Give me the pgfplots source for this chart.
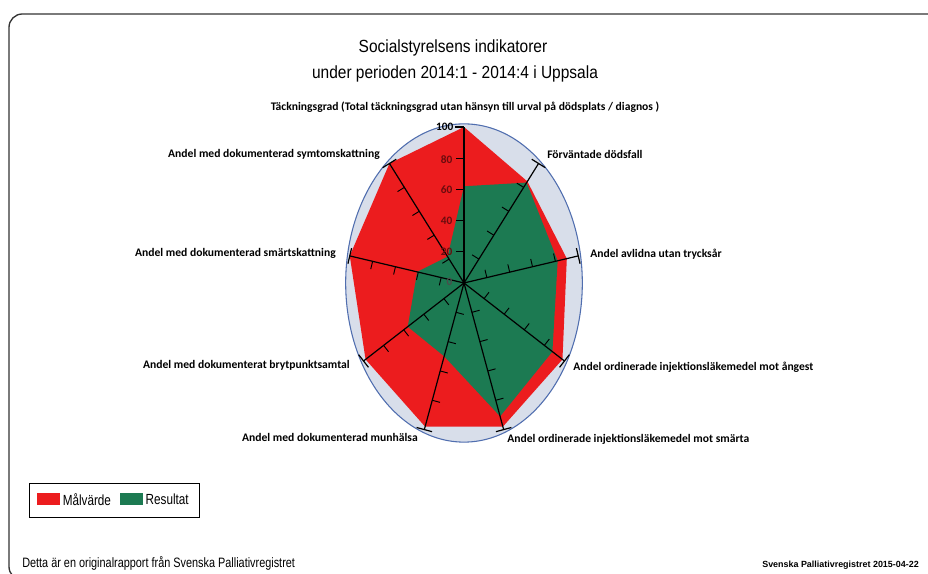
\documentclass[border=0pt]{standalone}
\usepackage{pgfplots}
\pgfplotsset{compat=1.18}
\usepackage{pgfplotstable}
\usepackage{fontspec}
\setmainfont{Liberation Sans}
\newfontfamily\lab{Carlito}
\newfontfamily\narrow[FakeStretch=0.8]{Liberation Sans}
\newfontfamily\titlefont[FakeStretch=0.88]{Liberation Sans}
\usetikzlibrary{calc}
\definecolor{mred}{RGB}{236,28,30}
\definecolor{mgreen}{RGB}{28,122,82}
\definecolor{ellfill}{RGB}{216,222,234}
\definecolor{elldraw}{RGB}{80,110,175}

% angle (deg), Malvarde, Resultat
\pgfplotstableread{
ang target result
90 100 62
50 85 84
10 90 82
-30 98 88
-70 98 91
-110 98 50
-150 98 56
170 100 41
130 100 22
90 100 62
}\radar

\begin{document}
\begin{tikzpicture}[x=0.75pt,y=0.75pt]
\path[use as bounding box] (0,0) rectangle (928,574);
\begin{scope}
\clip (0,0) rectangle (928,574);
\draw[line width=1pt, black!80, rounded corners=10pt] (9,560) rectangle (960,-6);
\end{scope}
\begin{axis}[at={(0,0)}, anchor=south west, scale only axis,
  width=696pt, height=430.5pt,
  xmin=-400, xmax=400, ymin=-186.54, ymax=181.41,
  hide axis, clip=false,
  legend columns=2,
  legend style={at={(0.031,0.1585)}, anchor=north west, draw=black, line width=1pt,
    font=\narrow\fontsize{11}{12}\selectfont, inner xsep=6pt, inner ysep=5.5pt,
    /tikz/every even column/.append style={column sep=5pt}},
  legend image code/.code={\fill[#1] (0pt,-3.3pt) rectangle (17pt,5.5pt);},
]
\draw[fill=ellfill, draw=elldraw, line width=0.8pt] (axis cs:0,0) ellipse [x radius=102, y radius=102];
\addplot[fill=mred, draw=none, data cs=polar] table[x=ang, y=target]{\radar};
\addlegendentry{Målvärde}
\addplot[fill=mgreen, draw=none, data cs=polar] table[x=ang, y=result]{\radar};
\addlegendentry{Resultat}
\coordinate (O) at (axis cs:0,0);
\pgfplotsinvokeforeach{0,...,8}{
  \coordinate (E#1) at (axis cs:{100*cos(90-40*#1)},{100*sin(90-40*#1)});
}
\end{axis}
% spokes and ticks
\foreach \k in {0,...,8}{
  \draw[line width=0.9pt] (O) -- (E\k);
  \foreach \f in {0.2,0.4,0.6,0.8}{
    \coordinate (T) at ($(O)!\f!(E\k)$);
    \draw[line width=0.7pt] (T) -- ($(T)!6pt!90:(E\k)$);
  }
}
\foreach \k in {1,...,8}{
  \draw[line width=0.9pt] ($(E\k)!6pt!90:(O)$) -- ($(E\k)!6pt!-90:(O)$);
}
\draw[line width=0.9pt] (E0) -- ++(-7pt,0);
% top axis tick labels
\begin{scope}[font=\lab\bfseries\fontsize{8.5}{9}\selectfont]
\node[anchor=east, inner sep=1pt] at (455,447) {100};
\node[anchor=east, inner sep=1pt, text=black!55!mred] at (454,414) {80};
\node[anchor=east, inner sep=1pt, text=black!55!mred] at (454,384) {60};
\node[anchor=east, inner sep=1pt, text=black!55!mred] at (454,353) {40};
\node[anchor=east, inner sep=1pt, text=black!55!mred] at (454,322) {20};
\node[anchor=east, inner sep=1pt, text=black!70] at (454,292) {0};
\end{scope}
% category labels
\begin{scope}[font=\lab\bfseries\fontsize{8.7}{9}\selectfont, inner sep=0pt]
\node at (465,467) {Täckningsgrad (Total täckningsgrad utan hänsyn till urval på dödsplats / diagnos )};
\node[anchor=west] at (547,420) {Förväntade dödsfall};
\node[anchor=west] at (590,320) {Andel avlidna utan trycksår};
\node[anchor=west] at (573,207) {Andel ordinerade injektionsläkemedel mot ångest};
\node[anchor=west] at (507,135) {Andel ordinerade injektionsläkemedel mot smärta};
\node[anchor=east] at (418,137) {Andel med dokumenterad munhälsa};
\node[anchor=east] at (350,209) {Andel med dokumenterat brytpunktsamtal};
\node[anchor=east] at (336,321) {Andel med dokumenterad smärtskattning};
\node[anchor=east] at (380,420) {Andel med dokumenterad symtomskattning};
\end{scope}
% title
\node[font=\titlefont\fontsize{13.2}{15}\selectfont, inner sep=0pt] at (453,526) {Socialstyrelsens indikatorer};
\node[font=\titlefont\fontsize{13.2}{15}\selectfont, inner sep=0pt] at (455,500) {under perioden 2014:1 - 2014:4 i Uppsala};
% footer
\node[anchor=west, inner sep=0pt, font=\narrow\fontsize{10.2}{11}\selectfont] at (22,11) {Detta är en originalrapport från Svenska Palliativregistret};
\node[anchor=east, inner sep=0pt, font=\bfseries\fontsize{6.7}{7}\selectfont] at (919,9) {Svenska Palliativregistret 2015-04-22};
\end{tikzpicture}
\end{document}
